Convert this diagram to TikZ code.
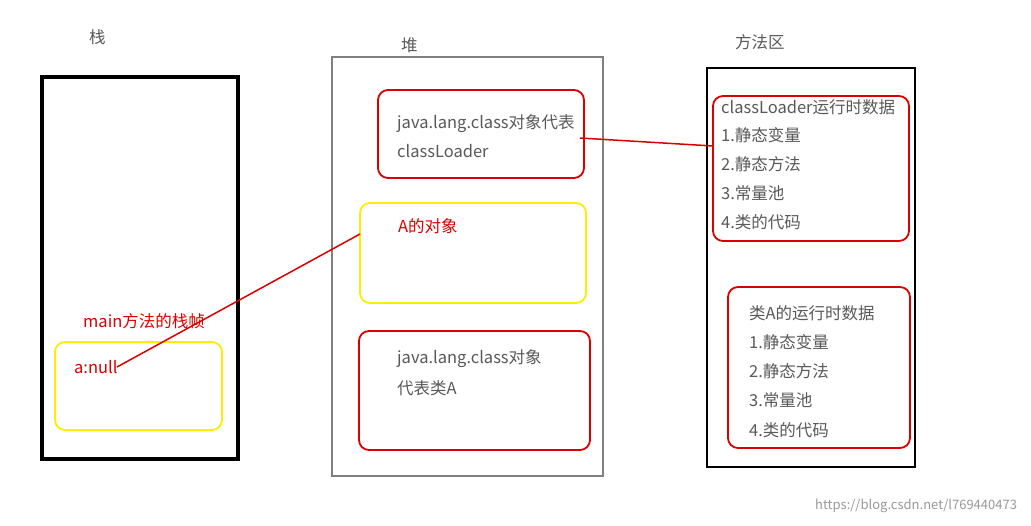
\documentclass[tikz,border=0pt]{standalone}
\usepackage{fontspec}
\setmainfont{Noto Sans CJK SC}
\begin{document}
\begin{tikzpicture}[x=1pt,y=-1pt,
  txt/.style={anchor=west,inner sep=0pt,font=\fontsize{16.5}{18}\selectfont,text=black!65},
  rtxt/.style={txt,text=red!85!black},
  rbox/.style={draw=red!85!black,line width=1.8pt,rounded corners=10pt},
  ybox/.style={draw=yellow!95!orange,line width=1.8pt,rounded corners=10pt},
  rline/.style={draw=red!85!black,line width=1.5pt}]
\useasboundingbox (0,0) rectangle (1031,525);
\fill[white] (0,0) rectangle (1031,525);
\node[txt] (t1) at (89,37) {栈};
\node[txt] (t2) at (401,45) {堆};
\node[txt] (t3) at (735,42) {方法区};
\draw[line width=3.5pt] (42,77) rectangle (238,459);
\draw[gray,line width=2pt] (332,57) rectangle (603,476);
\draw[line width=2pt] (707,68) rectangle (915,467);
\draw[rbox] (378,90) rectangle (584,178);
\node[txt] (h1) at (397,124) {java.lang.class对象代表};
\node[txt] (h2) at (397,151) {classLoader};
\draw[ybox] (360,203) rectangle (586,303);
\node[rtxt] (ao) at (398,226) {A的对象};
\draw[rbox] (359,331) rectangle (590,450);
\node[txt] (h3) at (397,359) {java.lang.class对象};
\node[txt] (h4) at (397,388) {代表类A};
\draw[rbox] (713,96) rectangle (909,241);
\node[txt] (m0) at (721,107) {classLoader运行时数据};
\node[txt] (m1) at (721,135) {1.静态变量};
\node[txt] (m2) at (721,164) {2.静态方法};
\node[txt] (m3) at (721,193) {3.常量池};
\node[txt] (m4) at (721,222) {4.类的代码};
\draw[rbox] (728,287) rectangle (910,448);
\node[txt] (n0) at (749,313) {类A的运行时数据};
\node[txt] (n1) at (749,342) {1.静态变量};
\node[txt] (n2) at (749,371) {2.静态方法};
\node[txt] (n3) at (749,400) {3.常量池};
\node[txt] (n4) at (749,430) {4.类的代码};
\node[rtxt] (mf) at (83,321) {main方法的栈帧};
\draw[ybox] (55,342) rectangle (222,430);
\node[rtxt] (an) at (74,367) {a:null};
\coordinate (p1) at (117,367); \coordinate (p2) at (360,234);
\coordinate (q1) at (580,138); \coordinate (q2) at (713,146);
\draw[rline] (p1) -- (p2);
\draw[rline] (q1) -- (q2);
\node[txt,font=\fontsize{13}{15}\selectfont,text=black!40] (wm) at (815,506) {https://blog.csdn.net/l769440473};
\end{tikzpicture}
\end{document}
